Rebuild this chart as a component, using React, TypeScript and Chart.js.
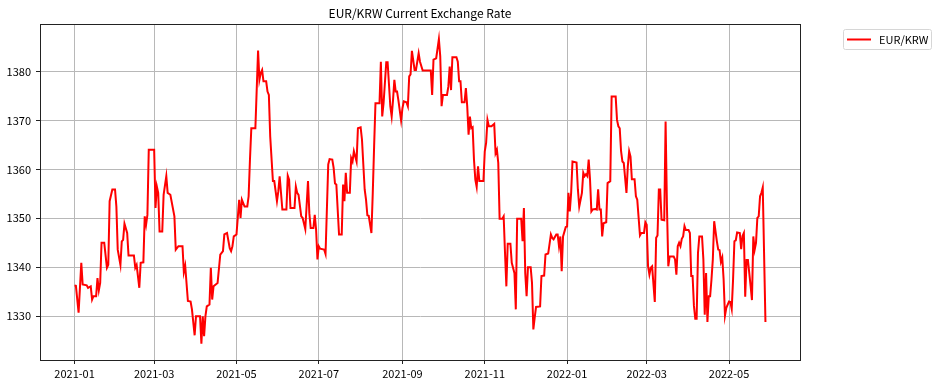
import { useEffect, useRef } from "react";
import { Chart, registerables } from "chart.js";

Chart.register(...registerables);

// Days since 2021-01-01
const startDate = "2021-01-01";
const days = [
  0, 1, 3, 5, 6, 9, 10, 12, 13, 14, 16, 17, 18, 19, 20, 22, 24, 25, 26, 28, 30, 31, 32, 34, 35, 36, 37, 39, 40, 44,
  45, 46, 48, 49, 51, 52, 53, 54, 55, 59, 60, 61, 62, 63, 65, 66, 68, 69, 71, 74, 75, 77, 80, 81, 82, 84, 86, 87, 89, 90,
  93, 94, 95, 96, 97, 98, 100, 101, 102, 103, 106, 108, 110, 111, 113, 115, 116, 117, 118, 120, 122, 123, 124, 126, 128, 129, 130, 131, 134, 136,
  137, 138, 139, 140, 142, 143, 144, 145, 147, 148, 150, 151, 152, 154, 157, 158, 159, 160, 163, 164, 165, 166, 168, 169, 171, 173, 174, 175, 177, 178,
  179, 180, 181, 182, 185, 186, 188, 189, 191, 192, 193, 194, 196, 198, 199, 200, 201, 202, 204, 205, 206, 207, 209, 210, 212, 213, 215, 216, 217, 218,
  220, 221, 222, 223, 226, 227, 228, 229, 231, 232, 234, 235, 236, 237, 238, 239, 240, 242, 243, 244, 246, 247, 248, 249, 250, 252, 253, 255, 256, 258,
  264, 265, 266, 268, 270, 271, 272, 273, 276, 277, 278, 279, 280, 283, 284, 285, 286, 287, 289, 290, 291, 292, 293, 294, 295, 296, 297, 298, 299, 300,
  303, 304, 305, 306, 307, 309, 311, 312, 313, 314, 315, 317, 318, 319, 320, 321, 323, 324, 326, 327, 328, 331, 332, 333, 334, 335, 336, 338, 339, 340,
  341, 342, 345, 346, 348, 349, 351, 353, 354, 355, 357, 358, 359, 360, 361, 362, 364, 365, 366, 367, 368, 369, 372, 373, 374, 376, 377, 378, 379, 380,
  381, 382, 383, 384, 386, 387, 388, 389, 390, 391, 392, 394, 395, 397, 398, 401, 402, 403, 404, 405, 406, 407, 409, 410, 411, 412, 413, 415, 416, 417,
  419, 420, 422, 423, 424, 425, 426, 427, 428, 430, 431, 432, 433, 434, 435, 437, 438, 439, 440, 441, 444, 445, 446, 447, 448, 449, 450, 451, 452, 453,
  455, 456, 457, 458, 459, 460, 461, 462, 463, 465, 466, 467, 468, 469, 470, 471, 472, 473, 474, 476, 477, 478, 479, 480, 481, 482, 483, 485, 486, 487,
  488, 489, 490, 491, 493, 494, 495, 496, 497, 498, 499, 501, 502, 503, 504, 505, 506, 507, 508, 509, 510, 512,
];

const rates = [
  1336.3, 1336.2, 1330.7, 1340.9, 1336.5, 1336.3, 1335.8, 1336.1, 1333.4, 1334.1, 1334.1, 1337.8, 1335.3, 1336.8, 1345.0, 1345.0, 1339.9, 1340.5, 1353.5, 1355.9, 1355.9, 1352.4, 1343.6, 1340.5, 1345.3, 1345.6, 1348.9, 1347.0, 1342.4, 1342.4,
  1339.9, 1340.5, 1335.8, 1340.9, 1341.0, 1350.4, 1348.7, 1350.7, 1364.0, 1364.0, 1352.1, 1356.5, 1355.2, 1347.3, 1347.3, 1354.8, 1358.6, 1355.2, 1354.8, 1350.4, 1343.6, 1344.3, 1344.3, 1339.0, 1340.3, 1333.1, 1333.0, 1331.4, 1326.1, 1330.0,
  1330.0, 1324.4, 1330.0, 1325.9, 1330.0, 1332.0, 1332.4, 1339.9, 1333.4, 1336.1, 1336.8, 1342.6, 1343.3, 1346.7, 1347.0, 1343.9, 1343.3, 1344.3, 1346.3, 1346.7, 1353.8, 1350.1, 1353.8, 1352.4, 1352.4, 1354.5, 1362.0, 1368.4, 1368.4, 1384.3,
  1378.3, 1379.7, 1380.3, 1378.0, 1378.0, 1375.9, 1375.2, 1366.7, 1357.6, 1357.6, 1353.5, 1355.5, 1358.6, 1351.8, 1351.8, 1358.7, 1357.9, 1352.1, 1352.1, 1356.5, 1355.2, 1354.8, 1350.4, 1350.1, 1347.8, 1357.6, 1351.0, 1348.0, 1348.0, 1350.7,
  1347.7, 1341.6, 1344.3, 1343.8, 1343.6, 1342.7, 1361.0, 1362.1, 1362.0, 1360.3, 1357.1, 1356.9, 1346.7, 1346.7, 1356.9, 1353.5, 1359.3, 1355.2, 1355.2, 1362.3, 1361.6, 1363.7, 1361.6, 1368.4, 1368.6, 1366.1, 1355.9, 1353.8, 1350.6, 1350.5,
  1347.0, 1355.2, 1364.7, 1373.5, 1373.5, 1382.0, 1370.8, 1373.5, 1381.9, 1381.9, 1372.9, 1370.8, 1374.1, 1378.3, 1375.9, 1375.9, 1374.1, 1370.0, 1372.5, 1373.9, 1373.7, 1372.9, 1379.0, 1379.4, 1384.2, 1380.3, 1380.3, 1383.7, 1382.0, 1380.2,
  1380.2, 1375.2, 1382.4, 1382.7, 1386.6, 1383.1, 1372.9, 1375.2, 1375.2, 1376.9, 1381.0, 1376.2, 1382.9, 1382.9, 1382.0, 1378.0, 1378.0, 1373.7, 1373.7, 1376.6, 1372.9, 1367.1, 1370.8, 1368.4, 1368.6, 1362.0, 1357.9, 1356.4, 1360.6, 1357.6,
  1357.6, 1363.7, 1365.4, 1370.1, 1368.8, 1368.8, 1369.3, 1363.3, 1364.0, 1361.3, 1349.9, 1349.9, 1350.4, 1342.9, 1336.1, 1344.8, 1344.8, 1340.9, 1338.8, 1331.4, 1349.9, 1349.9, 1345.3, 1352.1, 1338.8, 1334.1, 1340.0, 1340.0, 1336.8, 1327.3,
  1329.7, 1331.9, 1332.0, 1338.2, 1338.3, 1342.6, 1342.8, 1346.7, 1346.0, 1345.7, 1346.7, 1346.7, 1344.3, 1346.3, 1339.2, 1346.3, 1348.2, 1348.3, 1355.2, 1351.4, 1355.2, 1361.6, 1361.4, 1355.9, 1352.4, 1355.2, 1359.3, 1358.6, 1359.0, 1358.6,
  1362.0, 1357.9, 1351.4, 1351.8, 1351.9, 1351.8, 1355.9, 1351.8, 1351.8, 1346.3, 1349.0, 1349.2, 1357.2, 1357.6, 1374.9, 1374.9, 1370.1, 1368.8, 1368.4, 1363.7, 1361.6, 1361.3, 1355.2, 1360.6, 1363.7, 1362.6, 1358.0, 1358.0, 1354.5, 1353.8,
  1346.5, 1347.0, 1347.0, 1349.2, 1348.7, 1340.2, 1338.5, 1339.9, 1340.2, 1332.9, 1346.0, 1346.5, 1355.9, 1355.9, 1349.7, 1349.6, 1369.8, 1352.4, 1340.2, 1342.2, 1342.2, 1341.6, 1338.5, 1344.3, 1345.0, 1344.3, 1345.8, 1346.3, 1348.4, 1347.6,
  1347.6, 1347.0, 1338.2, 1338.2, 1332.1, 1329.5, 1329.5, 1342.9, 1346.3, 1346.3, 1341.6, 1330.3, 1338.8, 1328.8, 1334.1, 1334.1, 1337.5, 1341.6, 1349.4, 1345.3, 1343.6, 1343.5, 1341.1, 1342.0, 1337.5, 1330.1, 1331.7, 1333.0, 1332.9, 1331.5,
  1337.5, 1345.3, 1345.5, 1347.1, 1347.0, 1343.7, 1346.4, 1347.0, 1334.0, 1341.5, 1341.5, 1336.2, 1333.3, 1346.3, 1343.6, 1345.0, 1350.1, 1350.4, 1354.5, 1355.2, 1356.3, 1328.8,
];

const xTickDays = [0, 59, 120, 181, 243, 304, 365, 424, 485];
const xTickLabels = ["2021-01", "2021-03", "2021-05", "2021-07", "2021-09", "2021-11", "2022-01", "2022-03", "2022-05"];
const yTicks = [1330, 1340, 1350, 1360, 1370, 1380];
const seriesLabel = "EUR/KRW";
const titleText = "EUR/KRW Current Exchange Rate";

const FONT = "'Noto Sans CJK KR', 'Noto Sans', sans-serif";

const framePlugin = {
  id: "frame",
  afterDatasetsDraw(chart: any) {
    const { ctx, chartArea } = chart;
    const l = Math.round(chartArea.left) + 0.5;
    const t = Math.round(chartArea.top) + 0.5;
    const r = Math.round(chartArea.right) + 0.5;
    const b = Math.round(chartArea.bottom) + 0.5;
    ctx.save();
    ctx.strokeStyle = "#222";
    ctx.lineWidth = 1;
    ctx.strokeRect(l, t, r - l, b - t);
    ctx.restore();
  },
};

const textPlugin = {
  id: "texts",
  afterDraw(chart: any) {
    const { ctx, chartArea } = chart;
    ctx.save();
    // title
    ctx.fillStyle = "#000";
    ctx.font = `12px ${FONT}`;
    ctx.textAlign = "center";
    ctx.textBaseline = "middle";
    ctx.fillText(titleText, (chartArea.left + chartArea.right) / 2, 13);
    // legend
    const bx = 843.5, by = 29.5, bw = 88, bh = 20;
    ctx.beginPath();
    ctx.roundRect(bx, by, bw, bh, 2);
    ctx.fillStyle = "rgba(255,255,255,0.8)";
    ctx.fill();
    ctx.strokeStyle = "#d6d6d6";
    ctx.lineWidth = 1;
    ctx.stroke();
    ctx.beginPath();
    ctx.moveTo(847, 39.5);
    ctx.lineTo(871, 39.5);
    ctx.strokeStyle = "#ff0000";
    ctx.lineWidth = 2;
    ctx.stroke();
    ctx.fillStyle = "#000";
    ctx.font = `11px ${FONT}`;
    ctx.textAlign = "left";
    ctx.textBaseline = "middle";
    ctx.fillText(seriesLabel, 879, 39.5);
    ctx.restore();
  },
};

export default function App() {
  const ref = useRef<HTMLCanvasElement>(null);

  useEffect(() => {
    document.body.style.margin = "0";
    const canvas = ref.current;
    if (!canvas) return;
    const t0 = Date.parse(startDate);
    void t0;
    const points = days.map((d, i) => ({ x: d, y: rates[i] }));
    const chart = new Chart(canvas, {
      type: "line",
      data: {
        datasets: [
          {
            label: seriesLabel,
            data: points,
            borderColor: "#ff0000",
            borderWidth: 2,
            pointRadius: 0,
            tension: 0,
            fill: false,
          },
        ],
      },
      options: {
        animation: false,
        responsive: false,
        devicePixelRatio: 1,
        layout: { padding: { top: 24, right: 138, bottom: 0, left: 0 } },
        plugins: {
          legend: { display: false },
          title: { display: false },
          tooltip: { enabled: false },
        },
        scales: {
          x: {
            type: "linear",
            min: -25.6,
            max: 537.6,
            afterBuildTicks: (s: any) => {
              s.ticks = xTickDays.map((v) => ({ value: v }));
            },
            afterFit: (s: any) => {
              s.height = 26;
            },
            ticks: {
              autoSkip: false,
              maxRotation: 0,
              padding: 3,
              color: "#000",
              font: { family: FONT, size: 11 },
              callback: (_v: any, i: number) => xTickLabels[i],
            },
            grid: { color: "#b8b8b8", lineWidth: 1, tickLength: 4, tickColor: "#222" },
            border: { display: true, color: "#222" },
          },
          y: {
            type: "linear",
            min: 1321.05,
            max: 1389.7,
            afterBuildTicks: (s: any) => {
              s.ticks = yTicks.map((v) => ({ value: v }));
            },
            afterFit: (s: any) => {
              s.width = 40;
            },
            ticks: {
              padding: 5,
              color: "#000",
              font: { family: FONT, size: 11 },
              callback: (v: any) => String(v),
            },
            grid: { color: "#b8b8b8", lineWidth: 1, tickLength: 4, tickColor: "#222" },
            border: { display: true, color: "#222" },
          },
        },
      },
      plugins: [framePlugin, textPlugin],
    });
    return () => chart.destroy();
  }, []);

  return (
    <div style={{ width: 938, height: 386, background: "#fff" }}>
      <canvas ref={ref} width={938} height={386} style={{ display: "block" }} />
    </div>
  );
}
